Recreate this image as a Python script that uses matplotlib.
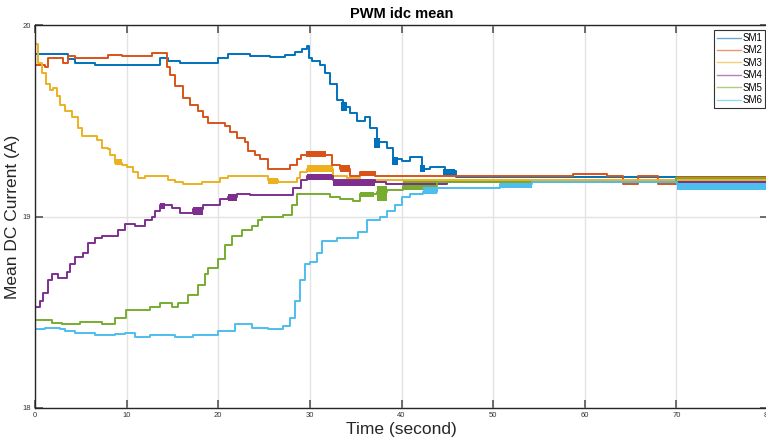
import numpy as np
import matplotlib.pyplot as plt

# step breakpoints (time s, mean dc current A), held until the next breakpoint
sm1_t = [0, 0.05, 3.6, 4.4, 6.5, 13.6, 14.5, 15.8, 20.0, 21.1, 23.5, 25.6, 27.3, 28.4, 29.1, 29.7,
         29.9, 30.2, 31.1, 31.6, 32.2, 33.0, 33.6, 34.4, 35.1, 36.0, 36.6, 37.3, 38.4, 39.1, 40.0,
         40.9, 42.2, 43.1, 44.7, 45.9, 80]
sm1_v = [18, 19.85, 19.82, 19.80, 19.79, 19.83, 19.81, 19.80, 19.83, 19.85, 19.84, 19.835, 19.845,
         19.86, 19.875, 19.89, 19.83, 19.81, 19.79, 19.75, 19.69, 19.61, 19.57, 19.54, 19.50, 19.52,
         19.46, 19.39, 19.36, 19.30, 19.29, 19.31, 19.25, 19.26, 19.24, 19.205, 19.205]

sm2_t = [0, 0.05, 1.1, 1.4, 3.1, 3.6, 4.4, 8.0, 9.5, 12.8, 14.4, 14.7, 15.3, 16.2, 16.9, 17.8, 18.3,
         18.9, 20.2, 20.7, 21.3, 22.0, 22.9, 23.2, 24.0, 24.6, 25.4, 27.8, 28.6, 29.0, 29.7, 31.1,
         32.4, 33.3, 34.4, 35.5, 37.1, 58.7, 62.4, 64.2, 65.8, 68.0, 70.1, 80]
sm2_v = [18, 19.79, 19.78, 19.83, 19.80, 19.84, 19.83, 19.845, 19.84, 19.855, 19.78, 19.74, 19.68,
         19.62, 19.58, 19.55, 19.52, 19.49, 19.49, 19.47, 19.44, 19.41, 19.39, 19.34, 19.32, 19.30,
         19.25, 19.27, 19.30, 19.32, 19.33, 19.32, 19.27, 19.25, 19.21, 19.23, 19.21, 19.22, 19.21,
         19.17, 19.21, 19.17, 19.205, 19.205]

sm3_t = [0, 0.02, 0.3, 0.8, 1.2, 1.6, 2.0, 2.4, 2.7, 3.3, 4.0, 4.7, 5.1, 6.0, 6.8, 7.3, 8.0, 8.2,
         8.7, 9.5, 10.0, 10.7, 11.2, 12.0, 14.5, 15.3, 16.2, 18.2, 20.2, 21.1, 25.4, 26.5, 28.6,
         28.9, 29.7, 32.5, 34.0, 35.5, 80]
sm3_v = [18, 19.90, 19.80, 19.75, 19.69, 19.66, 19.67, 19.63, 19.58, 19.55, 19.52, 19.46, 19.42,
         19.42, 19.40, 19.36, 19.35, 19.32, 19.28, 19.27, 19.26, 19.23, 19.20, 19.21, 19.19, 19.18,
         19.17, 19.18, 19.20, 19.21, 19.19, 19.18, 19.20, 19.23, 19.25, 19.21, 19.20, 19.19, 19.19]

sm4_t = [0, 0.05, 0.5, 0.9, 1.4, 1.9, 2.5, 3.5, 3.8, 4.4, 5.2, 5.8, 6.5, 7.3, 9.1, 9.8, 10.9, 12.0,
         12.8, 13.1, 13.6, 14.2, 15.0, 15.8, 17.2, 18.3, 20.2, 21.1, 22.0, 23.5, 28.2, 29.0, 29.7,
         32.5, 37.1, 38.3, 45.0, 80]
sm4_v = [18, 18.53, 18.56, 18.60, 18.67, 18.70, 18.68, 18.71, 18.75, 18.79, 18.81, 18.86, 18.89,
         18.90, 18.93, 18.96, 18.95, 18.98, 19.00, 19.03, 19.06, 19.06, 19.045, 19.02, 19.04, 19.06,
         19.09, 19.10, 19.12, 19.11, 19.15, 19.19, 19.21, 19.19, 19.18, 19.17, 19.18, 19.18]

sm5_t = [0, 0.05, 1.9, 3.0, 4.9, 7.3, 8.7, 9.9, 12.6, 13.6, 15.0, 15.6, 16.7, 17.8, 18.6, 18.9,
         20.0, 20.7, 21.5, 22.6, 23.7, 24.3, 24.8, 27.1, 28.0, 28.6, 32.2, 33.3, 34.7, 35.5, 37.3,
         38.4, 40.2, 43.9, 70.0, 80]
sm5_v = [18, 18.46, 18.445, 18.44, 18.45, 18.44, 18.47, 18.51, 18.53, 18.55, 18.53, 18.55, 18.59,
         18.64, 18.70, 18.73, 18.78, 18.85, 18.90, 18.93, 18.95, 18.98, 19.00, 19.01, 19.06, 19.12,
         19.10, 19.09, 19.08, 19.12, 19.13, 19.14, 19.16, 19.18, 19.20, 19.20]

sm6_t = [0, 0.05, 1.1, 2.7, 3.3, 4.4, 6.5, 8.7, 9.8, 10.9, 12.6, 15.3, 17.2, 20.0, 21.8, 23.7, 25.4,
         27.1, 27.8, 28.4, 28.9, 29.5, 30.0, 30.8, 31.3, 33.0, 35.3, 36.2, 37.7, 38.4, 39.3, 40.0,
         40.9, 42.3, 43.9, 50.8, 54.2, 70.1, 80]
sm6_v = [18, 18.41, 18.42, 18.41, 18.40, 18.39, 18.38, 18.385, 18.39, 18.37, 18.38, 18.37, 18.38,
         18.40, 18.44, 18.42, 18.41, 18.43, 18.47, 18.56, 18.67, 18.75, 18.76, 18.81, 18.87, 18.89,
         18.92, 18.98, 19.00, 19.03, 19.06, 19.10, 19.12, 19.13, 19.15, 19.17, 19.18, 19.17, 19.17]

# fast switching ripple: (t start, t end, low, high)
sm1_ripple = [(33.4, 34.0, 19.55, 19.60), (37.0, 37.6, 19.36, 19.41), (39.0, 39.6, 19.27, 19.31),
              (42.0, 42.6, 19.23, 19.27), (44.5, 45.8, 19.21, 19.25)]
sm2_ripple = [(29.6, 31.8, 19.31, 19.34), (33.3, 34.4, 19.23, 19.27), (35.5, 37.2, 19.21, 19.24)]
sm3_ripple = [(8.7, 9.5, 19.27, 19.30), (25.4, 26.5, 19.17, 19.20), (29.7, 32.5, 19.23, 19.27)]
sm4_ripple = [(13.6, 14.2, 19.04, 19.07), (17.2, 18.3, 19.01, 19.05), (21.1, 22.0, 19.08, 19.12),
              (29.7, 32.5, 19.19, 19.22), (32.5, 37.1, 19.16, 19.19)]
sm5_ripple = [(35.5, 37.0, 19.10, 19.13), (37.3, 38.4, 19.08, 19.16), (40.2, 43.9, 19.14, 19.19)]
sm6_ripple = [(42.3, 43.9, 19.12, 19.16), (50.8, 54.2, 19.15, 19.19), (70.1, 80.0, 19.14, 19.20)]

names = ['SM1', 'SM2', 'SM3', 'SM4', 'SM5', 'SM6']
colors = ['#0072BD', '#D95319', '#EDB120', '#7E2F8E', '#77AC30', '#4DBEEE']
series = [(sm1_t, sm1_v, sm1_ripple), (sm2_t, sm2_v, sm2_ripple), (sm3_t, sm3_v, sm3_ripple),
          (sm4_t, sm4_v, sm4_ripple), (sm5_t, sm5_v, sm5_ripple), (sm6_t, sm6_v, sm6_ripple)]

plt.rcParams['font.family'] = ['Liberation Sans', 'DejaVu Sans']

fig = plt.figure(figsize=(7.66, 4.46), dpi=100)
ax = fig.add_axes([35 / 766, 38 / 446, 733 / 766, 383 / 446])

for name, c, (t, v, rip) in zip(names, colors, series):
    ax.plot(t, v, drawstyle='steps-post', color=c, lw=1.4, label=name)
    for t0, t1, lo, hi in rip:
        ax.fill_between([t0, t1], [lo, lo], [hi, hi], color=c, lw=0)

ax.set_xlim(0, 80)
ax.set_ylim(18, 20)
ax.set_xticks(np.arange(0, 81, 10))
ax.set_yticks([18, 19, 20])
ax.grid(True, color='#e3e3e3', lw=1.0)
ax.set_axisbelow(True)
ax.tick_params(direction='in', length=6, width=1.2, labelsize=5.5, colors='#555555',
               labelcolor='#333333', top=True, right=True, pad=3)
for sp in ax.spines.values():
    sp.set_color('#262626')
    sp.set_linewidth(1.0)

ax.set_title('PWM idc mean', fontsize=10.5, fontweight='bold', pad=5)
ax.set_xlabel('Time (second)', fontsize=12.5, color='#262626', labelpad=2)
ax.set_ylabel('Mean DC Current (A)', fontsize=12.5, color='#262626', labelpad=2)

leg = ax.legend(loc='upper right', bbox_to_anchor=(765 / 766, 1 - 30 / 446),
                bbox_transform=fig.transFigure, fontsize=7, handlelength=2.4,
                handletextpad=0.15, borderpad=0.3, labelspacing=0.25,
                fancybox=False, framealpha=1, borderaxespad=0)
leg.get_frame().set_edgecolor('#333333')
leg.get_frame().set_linewidth(0.8)
for h in leg.get_lines():
    h.set_linewidth(1.0)
    h.set_alpha(0.6)

fig.savefig('out.png', dpi=100)
